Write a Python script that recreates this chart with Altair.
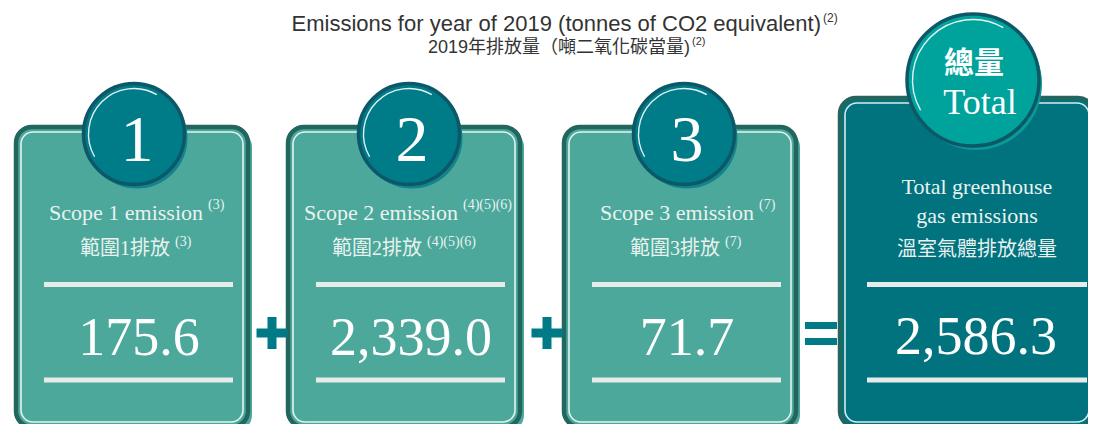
import altair as alt
import pandas as pd

# ---------------- data ----------------
title_en = "Emissions for year of 2019 (tonnes of CO2 equivalent)"
title_zh = "2019年排放量（噸二氧化碳當量)"
title_note = "(2)"

scope_numbers = ["1", "2", "3"]
scope_titles = ["Scope 1 emission", "Scope 2 emission", "Scope 3 emission"]
scope_titles_zh = ["範圍1排放", "範圍2排放", "範圍3排放"]
scope_notes = ["(3)", "(4)(5)(6)", "(7)"]
scope_values = [175.6, 2339.0, 71.7]

total_badge = ["總量", "Total"]
total_lines = ["Total greenhouse", "gas emissions", "溫室氣體排放總量"]
total_value = 2586.3

operators = ["+", "+", "="]

# ---------------- layout (page pixel coordinates) ----------------
box_left = [16, 288, 564]
box_w = 232
box_top, box_bottom = 127, 427
tot_left, tot_right, tot_top = 840, 1094, 98
circ_cx = [134, 409, 684]
circ_cy = 134
circ_d = 101
tot_cx, tot_cy, tot_d = 973, 80, 132
title_end = [203, 458, 754]
zh_end = [170, 422, 720]
op_x = [272, 547, 821]

BOX_FILL = "#4ba89b"
TOT_FILL = "#00737f"
BORDER = "#23665f"
CIRC_FILL = "#007b88"
TOT_CIRC = "#00a39b"
CIRC_EDGE = "#0c5868"
RULE_COL = "#e6ecea"
OP_COL = "#007a87"
TXT = "#e9f2ef"
SERIF = "Liberation Serif, Noto Sans CJK TC"
SANS = "Liberation Sans, Noto Sans CJK TC"
# highlight arc shape: from 8 o'clock up round the left to 1 o'clock (unit circle)
ARC_SHAPE = "M -0.866 0.5 A 1 1 0 0 1 0.5 -0.866"

xs = alt.Scale(domain=[8, 1088], nice=False, zero=False)
ys = alt.Scale(domain=[8, 424], nice=False, zero=False, reverse=True)


def X(f="x"):
    return alt.X(f"{f}:Q", scale=xs, axis=None)


def Y(f="y"):
    return alt.Y(f"{f}:Q", scale=ys, axis=None)


# boxes
bx = [dict(x=l, x2=l + box_w, y=box_top, y2=box_bottom, fill=BOX_FILL) for l in box_left]
bx.append(dict(x=tot_left, x2=tot_right, y=tot_top, y2=box_bottom, fill=TOT_FILL))
boxes = pd.DataFrame(bx)
shadow = boxes.assign(x=boxes.x + 4, x2=boxes.x2 + 4, y=boxes.y + 4, y2=boxes.y2 + 4)
inner = boxes.assign(x=boxes.x + 5, x2=boxes.x2 - 5, y=boxes.y + 5, y2=boxes.y2 - 5)

enc_rect = dict(x=X(), x2=alt.X2("x2:Q"), y=Y(), y2=alt.Y2("y2:Q"),
                color=alt.Color("fill:N", scale=None))
l_shadow = alt.Chart(shadow).mark_rect(cornerRadius=16).encode(**enc_rect)
l_box = alt.Chart(boxes).mark_rect(cornerRadius=16, stroke=BORDER, strokeWidth=4.5).encode(**enc_rect)
l_inner = alt.Chart(inner).mark_rect(cornerRadius=12, fillOpacity=0, stroke="white",
                                     strokeWidth=1.6, strokeOpacity=0.85).encode(
    x=X(), x2=alt.X2("x2:Q"), y=Y(), y2=alt.Y2("y2:Q"))

# circles
cc = [dict(x=c, y=circ_cy, size=circ_d ** 2, hl=(circ_d - 10) ** 2, fill=CIRC_FILL, shade="#13848d")
      for c in circ_cx]
cc.append(dict(x=tot_cx, y=tot_cy, size=tot_d ** 2, hl=(tot_d - 11) ** 2, fill=TOT_CIRC, shade="#0a9a94"))
circles = pd.DataFrame(cc)
c_shadow = circles.assign(x=circles.x + 3, y=circles.y + 4)
l_cshadow = alt.Chart(c_shadow).mark_point(shape="circle", filled=True, opacity=1).encode(
    x=X(), y=Y(), size=alt.Size("size:Q", scale=None), color=alt.Color("shade:N", scale=None))
l_circ = alt.Chart(circles).mark_point(shape="circle", filled=True, opacity=1, stroke=CIRC_EDGE,
                                       strokeWidth=3.5).encode(
    x=X(), y=Y(), size=alt.Size("size:Q", scale=None), color=alt.Color("fill:N", scale=None))
l_hl = alt.Chart(circles).mark_point(shape=ARC_SHAPE, filled=False, color="white", opacity=0.9,
                                     strokeWidth=1.4).encode(
    x=X(), y=Y(), size=alt.Size("hl:Q", scale=None))

# white rules inside boxes
rr = []
for l in box_left:
    for yy in (284.5, 380):
        rr.append(dict(x=l + 28, x2=l + 217, y=yy))
for yy in (284.5, 380):
    rr.append(dict(x=867, x2=1087, y=yy))
l_rules = alt.Chart(pd.DataFrame(rr)).mark_rule(strokeWidth=5, color=RULE_COL, strokeCap="butt").encode(
    x=X(), x2=alt.X2("x2:Q"), y=Y())

# operators (+ + =)
ops = []
for sym, cx in zip(operators, op_x):
    if sym == "+":
        ops.append(dict(x=cx - 15.5, x2=cx + 15.5, y=333, y2=333, w=9))
        ops.append(dict(x=cx, x2=cx, y=317, y2=349, w=9))
    else:
        ops.append(dict(x=cx - 16, x2=cx + 16, y=325.5, y2=325.5, w=7))
        ops.append(dict(x=cx - 16, x2=cx + 16, y=341.5, y2=341.5, w=7))
opdf = pd.DataFrame(ops)
l_ops = []
for w in sorted(opdf.w.unique()):
    l_ops.append(alt.Chart(opdf[opdf.w == w]).mark_rule(strokeWidth=float(w), color=OP_COL,
                                                        strokeCap="butt").encode(
        x=X(), x2=alt.X2("x2:Q"), y=Y(), y2=alt.Y2("y2:Q")))


def txt(rows, size, font=SERIF, align="center", weight="normal", color="white"):
    return alt.Chart(pd.DataFrame(rows)).mark_text(
        fontSize=size, font=font, align=align, baseline="alphabetic",
        fontWeight=weight, color=color).encode(x=X(), y=Y(), text="text:N")


texts = [
    # headline
    txt([dict(x=821, y=31, text=title_en)], 22, SANS, "right", color="#333333"),
    txt([dict(x=823, y=22, text=title_note)], 12, SANS, "left", color="#333333"),
    txt([dict(x=690, y=53, text=title_zh)], 18, SANS, "right", color="#333333"),
    txt([dict(x=692, y=45, text=title_note)], 11, SANS, "left", color="#333333"),
    # circle numbers
    txt([dict(x=c + 3, y=161, text=n) for c, n in zip(circ_cx, scope_numbers)], 66),
    # scope titles
    txt([dict(x=e, y=220, text=t) for e, t in zip(title_end, scope_titles)], 22, align="right", color=TXT),
    txt([dict(x=e + 5, y=209, text=n) for e, n in zip(title_end, scope_notes)], 14, align="left", color=TXT),
    txt([dict(x=e, y=255, text=t) for e, t in zip(zh_end, scope_titles_zh)], 20, align="right", color=TXT),
    txt([dict(x=e + 5, y=246, text=n) for e, n in zip(zh_end, scope_notes)], 14, align="left", color=TXT),
    # scope values
    txt([dict(x=l + 123, y=355, text=f"{v:,.1f}") for l, v in zip(box_left, scope_values)], 54),
    # total badge
    txt([dict(x=tot_cx + 1, y=73, text=total_badge[0])], 30, weight="bold"),
    txt([dict(x=tot_cx + 7, y=114, text=total_badge[1])], 36),
    # total texts
    txt([dict(x=977, y=194, text=total_lines[0]), dict(x=977, y=223, text=total_lines[1])], 22, color=TXT),
    txt([dict(x=977, y=256, text=total_lines[2])], 20, color=TXT),
    txt([dict(x=976, y=354, text=f"{total_value:,.1f}")], 54),
]

chart = alt.layer(
    l_shadow, l_box, l_inner, l_rules, *l_ops,
    l_cshadow, l_circ, l_hl, *texts
).properties(
    width=1080, height=416, padding=0, autosize="none"
).configure_view(stroke=None)

chart.save("out.html", embed_options={"renderer": "svg", "actions": False})
